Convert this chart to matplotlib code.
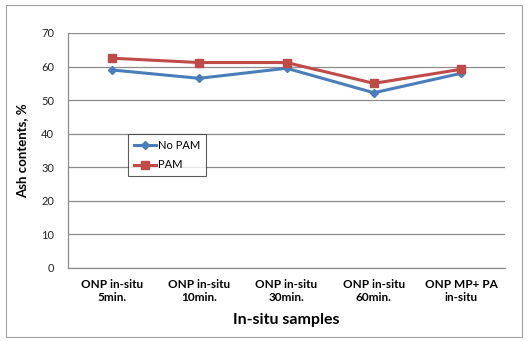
import matplotlib as mpl
mpl.use("Agg")
import matplotlib.pyplot as plt
from matplotlib.patches import Rectangle

categories = ["ONP in-situ\n5min.", "ONP in-situ\n10min.", "ONP in-situ\n30min.",
              "ONP in-situ\n60min.", "ONP MP+ PA\nin-situ"]
no_pam = [59.0, 56.5, 59.5, 52.2, 58.0]
pam = [62.5, 61.2, 61.2, 55.0, 59.2]
yticks = [0, 10, 20, 30, 40, 50, 60, 70]

plt.rcParams["font.family"] = ["Lato", "DejaVu Sans"]

fig = plt.figure(figsize=(5.28, 3.41), dpi=100)
ax = fig.add_axes([68 / 528, 1 - 268 / 341, 437 / 528, 235 / 341])

# outer chart border
fig.patches.append(Rectangle((6 / 528, 4 / 341), 516 / 528, 332 / 341,
                             transform=fig.transFigure, fill=False,
                             edgecolor="#a0a0a0", linewidth=0.8))

x = list(range(len(categories)))
ax.plot(x, no_pam, color="#4a7ebb", linewidth=2.2, marker="D", markersize=4,
        label="No PAM")
ax.plot(x, pam, color="#be4b48", linewidth=2.2, marker="s", markersize=6,
        label="PAM")

ax.set_xlim(-0.5, len(categories) - 0.5)
ax.set_ylim(0, 70)
ax.set_yticks(yticks)
ax.set_xticks(x)
ax.set_xticklabels(categories, fontsize=8.5, fontweight="bold")
ax.tick_params(axis="y", labelsize=8, length=0, pad=10, labelcolor="#222222")
ax.tick_params(axis="x", length=0, pad=8)
ax.yaxis.grid(True, color="#8c8c8c", linewidth=0.9)
ax.set_axisbelow(True)
for s in ["top", "right"]:
    ax.spines[s].set_visible(False)
for s in ["left", "bottom"]:
    ax.spines[s].set_color("#8c8c8c")
    ax.spines[s].set_linewidth(0.9)

ax.set_ylabel("Ash contents, %", fontsize=9.5, fontweight="bold", labelpad=9)
ax.set_xlabel("In-situ samples", fontsize=11.5, fontweight="bold", labelpad=7)

leg = ax.legend(loc="upper left", bbox_to_anchor=(60 / 437, (268 - 134) / 235),
                borderaxespad=0, fontsize=8, frameon=True, fancybox=False,
                handlelength=2.0, borderpad=0.5, labelspacing=0.8,
                handletextpad=0.2)
leg.get_frame().set_edgecolor("#333333")
leg.get_frame().set_linewidth(0.8)

fig.savefig("out.png", dpi=100)
